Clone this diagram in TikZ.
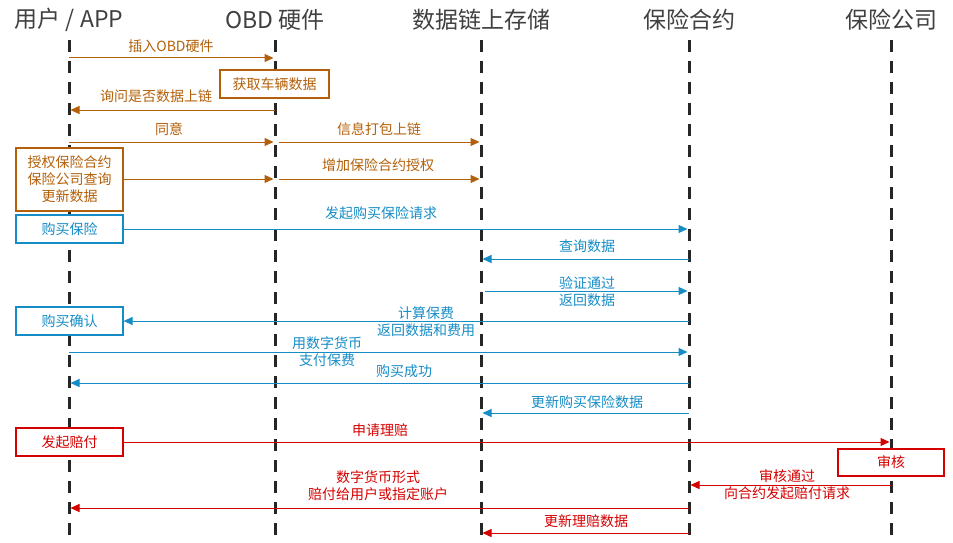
\documentclass[tikz,border=0pt]{standalone}
\usepackage{fontspec}
\setmainfont{Noto Sans CJK SC}
\usetikzlibrary{arrows.meta,positioning}

\definecolor{ochre}{RGB}{180,96,10}
\definecolor{sky}{RGB}{22,140,198}
\definecolor{alarm}{RGB}{213,0,0}
\definecolor{ink}{RGB}{38,38,38}
\definecolor{head}{RGB}{64,64,64}

\begin{document}
\begin{tikzpicture}[x=1pt,y=-1pt,
  life/.style={line width=3pt,draw=ink,dash pattern=on 12pt off 9pt},
  msg/.style={line width=1pt,-{Triangle[length=9pt,width=8pt]},shorten >=1.5pt},
  actor/.style={font=\fontsize{23}{27}\selectfont,text=head,inner sep=0pt},
  lbl/.style={font=\fontsize{14}{17}\selectfont,align=center,inner sep=0pt},
  act/.style={draw=#1,text=#1,line width=1.2pt,fill=white,
    font=\fontsize{14}{17}\selectfont,align=center,inner sep=0pt}]

\useasboundingbox (0,0) rectangle (953,543);

% Actors and their lifelines.
\foreach \name/\xx/\txt in {usr/69/{用户 / APP},obd/275/{OBD 硬件},
  chain/481/{数据链上存储},ctr/689/{保险合约},co/891/{保险公司}}
{
  \node[actor] (\name) at (\xx,20) {\txt};
  \coordinate (\name-top) at (\xx,40);
  \coordinate (\name-bot) at (\xx,537);
  \draw[life] (\name-top) -- (\name-bot);
}

% Activity boxes.
\node[act=ochre,minimum width=109pt,minimum height=28pt] (fetch) at (274.5,84) {获取车辆数据};
\node[act=ochre,minimum width=107pt,minimum height=63pt] (auth) at (69.5,179.5)
  {授权保险合约\\保险公司查询\\更新数据};
\node[act=sky,minimum width=107pt,minimum height=28pt] (buy) at (69.5,229) {购买保险};
\node[act=sky,minimum width=107pt,minimum height=28pt] (confirm) at (69.5,321) {购买确认};
\node[act=alarm,minimum width=107pt,minimum height=28pt] (claim) at (69.5,442) {发起赔付};
\node[act=alarm,minimum width=106pt,minimum height=27pt] (audit) at (891,462.5) {审核};

% Binding the OBD hardware (orange).
\foreach \a/\b/\yy in {usr/obd/58,obd/usr/110,usr/obd/142}
  \draw[msg,ochre] (\a |- 0,\yy) -- (\b |- 0,\yy);
\draw[msg,ochre,shorten <=4pt] (obd |- 0,142) -- (chain |- 0,142);
\draw[msg,ochre] (auth.east |- 0,179) -- (obd |- 0,179);
\draw[msg,ochre,shorten <=4pt] (obd |- 0,179) -- (chain |- 0,179);
\node[lbl,ochre] (plug) at (171,46) {插入OBD硬件};
\node[lbl,ochre] (ask) at (156,96) {询问是否数据上链};
\node[lbl,ochre] (agree) at (169,129) {同意};
\node[lbl,ochre] (pack) at (379,129) {信息打包上链};
\node[lbl,ochre] (grant) at (378,165) {增加保险合约授权};

% Buying the insurance (blue).
\draw[msg,sky] (buy.east) -- (ctr |- buy.east);
\draw[msg,sky] (ctr |- 0,259) -- (chain |- 0,259);
\draw[msg,sky,shorten <=4pt] (chain |- 0,291) -- (ctr |- 0,291);
\draw[msg,sky,shorten >=0pt] (ctr |- confirm.east) -- (confirm.east);
\foreach \a/\b/\yy in {usr/ctr/352,ctr/usr/383,ctr/chain/413}
  \draw[msg,sky] (\a |- 0,\yy) -- (\b |- 0,\yy);
\node[lbl,sky] (req) at (381,213) {发起购买保险请求};
\node[lbl,sky] (query) at (587,246) {查询数据};
\node[lbl,sky] (verify) at (587,291.5) {验证通过\\返回数据};
\node[lbl,sky] (fee) at (426,321.5) {计算保费\\返回数据和费用};
\node[lbl,sky] (pay) at (327,351.5) {用数字货币\\支付保费};
\node[lbl,sky] (done) at (404,371) {购买成功};
\node[lbl,sky] (upbuy) at (587,402) {更新购买保险数据};

% Claiming (red).
\draw[msg,alarm] (claim.east) -- (co |- claim.east);
\foreach \a/\b/\yy in {co/ctr/485,ctr/usr/508,ctr/chain/533}
  \draw[msg,alarm] (\a |- 0,\yy) -- (\b |- 0,\yy);
\node[lbl,alarm] (apply) at (380,430) {申请理赔};
\node[lbl,alarm] (pass) at (787,485) {审核通过\\向合约发起赔付请求};
\node[lbl,alarm] (payout) at (378,486) {数字货币形式\\赔付给用户或指定账户};
\node[lbl,alarm] (upclaim) at (586,521) {更新理赔数据};

\end{tikzpicture}
\end{document}
